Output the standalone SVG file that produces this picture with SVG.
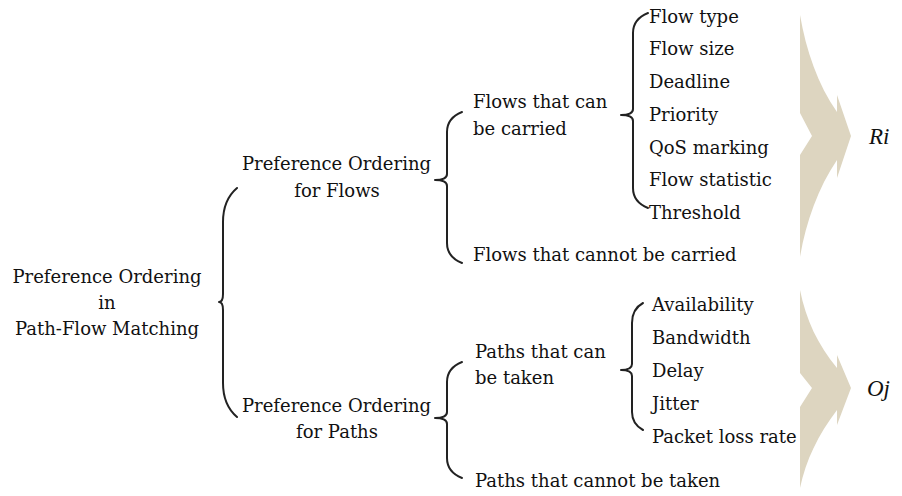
<svg xmlns="http://www.w3.org/2000/svg" width="902" height="496" viewBox="0 0 902 496">
<style>
text{font-family:"DejaVu Serif","Liberation Serif",serif;font-size:18px;fill:#111}
.m{text-anchor:middle}
.math{font-family:"Liberation Serif",serif;font-style:italic;font-size:23px}
.br{fill:none;stroke:#222;stroke-width:2;stroke-linecap:round;stroke-linejoin:round}
.ar{fill:#ddd5c0}
</style>
<g id="root">
<text class="m" x="107" y="283">Preference Ordering</text>
<text class="m" x="107" y="309">in</text>
<text class="m" x="107" y="335">Path-Flow Matching</text>
</g>
<g id="connectors">
<path class="br" d="M237,188 Q223,200 223,222 L223,294 Q223,302 219,302 Q223,302 223,310 L223,383 Q223,405 237,417"/>
<path class="br" d="M462,112 Q447,118 447,132 L447,174 Q447,180 435,180 Q447,180 447,186 L447,243 Q447,257 462,263"/>
<path class="br" d="M648,13 Q633,19 633,33 L633,109 Q633,115 621,115 Q633,115 633,121 L633,188 Q633,202 648,208"/>
<path class="br" d="M462,362 Q447,368 447,382 L447,412 Q447,418 435,418 Q447,418 447,424 L447,458 Q447,472 462,478"/>
<path class="br" d="M643,303 Q632,309 632,323 L632,364 Q632,370 621,370 Q632,370 632,376 L632,412 Q632,424 643,430"/>
</g>
<g id="flows">
<text x="242" y="170">Preference Ordering</text>
<text class="m" x="337" y="197">for Flows</text>
</g>
<g id="paths">
<text x="242" y="412">Preference Ordering</text>
<text class="m" x="337" y="438">for Paths</text>
</g>
<g id="flows-can">
<text x="473" y="108">Flows that can</text>
<text x="473" y="135">be carried</text>
</g>
<g id="flows-cannot"><text x="473" y="261">Flows that cannot be carried</text></g>
<g id="paths-can">
<text x="475" y="358">Paths that can</text>
<text x="475" y="384">be taken</text>
</g>
<g id="paths-cannot"><text x="475" y="487">Paths that cannot be taken</text></g>
<g id="flow-items">
<text x="649" y="23">Flow type</text>
<text x="649" y="55">Flow size</text>
<text x="649" y="88">Deadline</text>
<text x="649" y="121">Priority</text>
<text x="649" y="154">QoS marking</text>
<text x="649" y="186">Flow statistic</text>
<text x="649" y="219">Threshold</text>
</g>
<g id="path-items">
<text x="652" y="311">Availability</text>
<text x="652" y="344">Bandwidth</text>
<text x="652" y="377">Delay</text>
<text x="652" y="410">Jitter</text>
<text x="652" y="443">Packet loss rate</text>
</g>
<g id="arrow-r">
<path class="ar" d="M800,15 C806,50 818,85 837,112 L837,95 L851,136 L837,178 L837,160 C818,188 806,222 800,257 L800,155 L812,136 L800,113 Z"/>
<text class="math" x="869" y="144">Ri</text>
</g>
<g id="arrow-o">
<path class="ar" d="M800,290 C806,320 818,345 837,368 L837,355 L851,388 L837,425 L837,410 C818,435 806,460 800,488 L800,407 L812,388 L800,373 Z"/>
<text class="math" x="867" y="396">Oj</text>
</g>
</svg>
